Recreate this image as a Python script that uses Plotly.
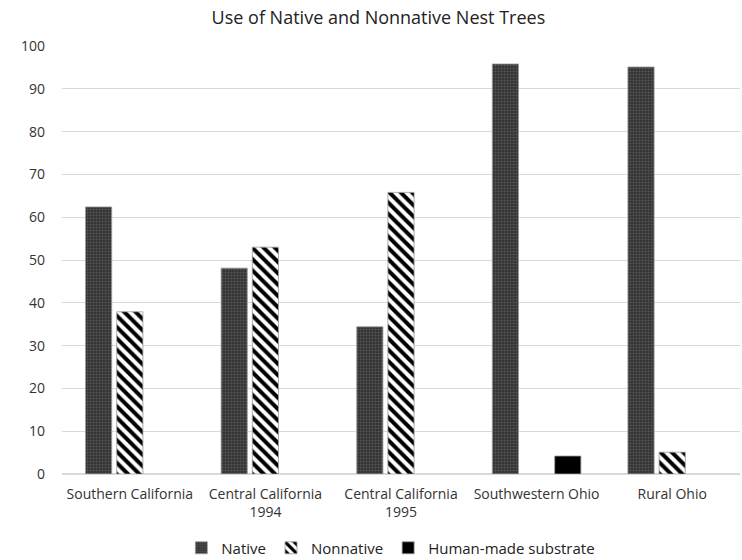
import plotly.graph_objects as go

categories = ["Southern California", "Central California<br>1994", "Central California<br>1995",
              "Southwestern Ohio", "Rural Ohio"]
native = [62.4, 48.1, 34.4, 95.8, 95.1]
nonnative = [37.9, 53.0, 65.8, None, 5.1]
human_made = [None, None, None, 4.2, None]

fig = go.Figure()
fig.add_trace(go.Bar(
    name="Native", x=categories, y=native,
    marker=dict(color="#333333", line=dict(color="#9a9a9a", width=0.8),
                pattern=dict(shape=".", fgcolor="#7a7a7a", size=3, solidity=0.4)),
))
fig.add_trace(go.Bar(
    name="Nonnative", x=categories, y=nonnative,
    marker=dict(color="white", line=dict(color="#9a9a9a", width=0.8),
                pattern=dict(shape="\\", fgcolor="black", bgcolor="white", size=8,
                             solidity=0.5, fgopacity=1)),
))
fig.add_trace(go.Bar(
    name="Human-made substrate", x=categories, y=human_made,
    marker=dict(color="black", line=dict(color="#9a9a9a", width=0.8)),
))

fig.update_layout(
    width=742, height=560,
    paper_bgcolor="white", plot_bgcolor="white",
    margin=dict(l=62, r=2, t=46, b=86, autoexpand=False),
    barmode="group", bargap=0.31, bargroupgap=0.16,
    title=dict(text="Use of Native and Nonnative Nest Trees", x=0.51, xanchor="center",
               y=1 - 18 / 560, yanchor="middle", font=dict(family="Open Sans", size=18, color="#222")),
    font=dict(family="Open Sans", size=14, color="#333"),
    legend=dict(orientation="h", x=0.485, xanchor="center", y=-0.173, yanchor="middle",
                font=dict(size=15, color="#222"), itemwidth=30, traceorder="normal"),
    xaxis=dict(showgrid=False, showline=False, ticks="", ticklabelstandoff=10,
               tickfont=dict(size=14, color="#333")),
    yaxis=dict(range=[0, 100], dtick=10, showgrid=True, gridcolor="#d9d9d9", gridwidth=1,
               zeroline=True, zerolinecolor="#d9d9d9", showline=False, ticks="",
               ticklabelstandoff=16, tickfont=dict(size=14, color="#333")),
)

fig.write_html("out.html", config={"displayModeBar": False},
               post_script="document.body.style.margin='0';")
